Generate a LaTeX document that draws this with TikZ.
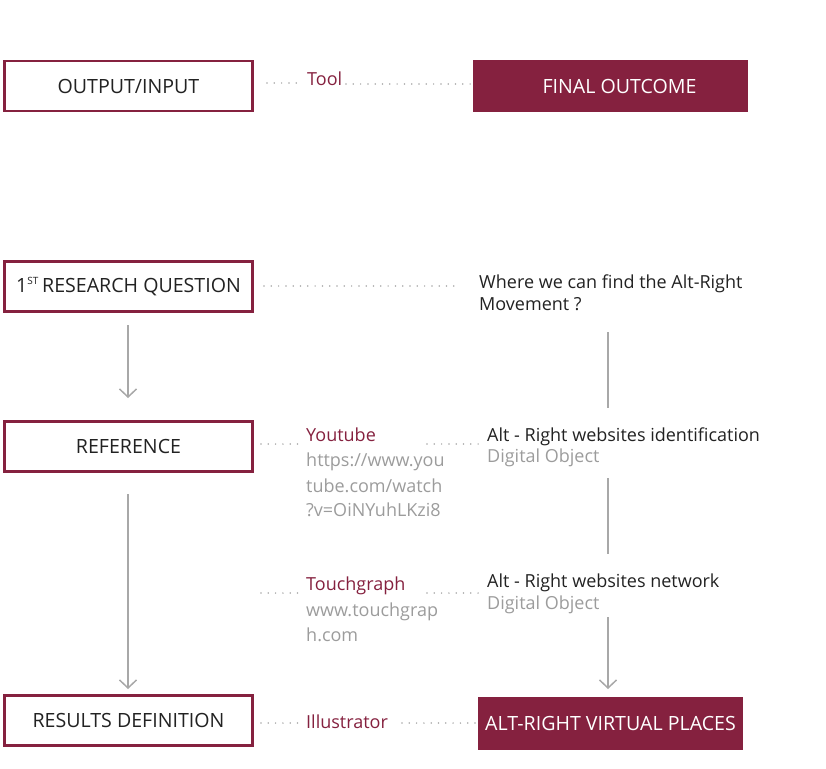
\documentclass[tikz,border=0pt]{standalone}
\usepackage{fontspec}
\setmainfont{Open Sans}
\usetikzlibrary{arrows.meta}
\definecolor{maroon}{HTML}{85213F}
\definecolor{lgray}{HTML}{9C9C9C}
\definecolor{dgray}{HTML}{A8A8A8}
\definecolor{txt}{HTML}{222222}
\begin{document}
\begin{tikzpicture}[x=1pt,y=-1pt,
  obox/.style={draw=maroon,line width=2.5pt,fill=white,minimum width=248pt,minimum height=50pt,inner sep=0pt,font=\fontsize{19.6}{22}\selectfont,text=txt},
  fbox/.style={fill=maroon,draw=none,inner sep=0pt,font=\fontsize{19.6}{22}\selectfont,text=white},
  lbl/.style={anchor=base west,inner sep=0pt,font=\fontsize{18}{20}\selectfont},
  mlbl/.style={lbl,text=maroon},
  glbl/.style={lbl,text=lgray},
  blbl/.style={lbl,text=txt},
  dots/.style={draw=dgray,line width=1.7pt,line cap=round,dash pattern=on 0pt off 7.3pt},
  conn/.style={draw=dgray,line width=1.5pt},
  arr/.style={conn,-{Straight Barb[length=8pt,width=17pt,line width=1.5pt]}}
]
\useasboundingbox (0,0) rectangle (826,768);

% left boxes
\node[obox] (io) at (128.5,86) {OUTPUT/INPUT};
\node[obox] (rq) at (128.5,286.5) {1\textsuperscript{\fontsize{10}{10}\selectfont ST}\,RESEARCH QUESTION};
\node[obox] (ref) at (128.5,446.5) {REFERENCE};
\node[obox] (res) at (128.5,720.5) {RESULTS DEFINITION};

% filled boxes
\node[fbox,minimum width=275pt,minimum height=52pt] (fo) at (610.5,86) {};
\node[fbox] (fot) at (619.5,86.5) {FINAL OUTCOME};
\node[fbox,minimum width=265pt,minimum height=53pt] (vp) at (610.5,723.5) {ALT-RIGHT VIRTUAL PLACES};

% row 1
\node[mlbl] (tool) at (307,85) {Tool};
\coordinate (t1) at (267,83);
\coordinate (t2) at (300,83);
\coordinate (t3) at (346,84);
\coordinate (t4) at (471,84);
\draw[dots] (t1) -- (t2);
\draw[dots] (t3) -- (t4);

% row 2
\node[blbl] (q1) at (479,288) {Where we can find the Alt-Right};
\node[blbl] (q2) at (479,310.5) {Movement ?};
\coordinate (r1) at (264,286);
\coordinate (r2) at (460,286);
\draw[dots] (r1) -- (r2);

% row 3
\node[mlbl] (yt) at (306,441.7) {Youtube};
\node[glbl] (yt1) at (306,466.5) {https://www.you};
\node[glbl] (yt2) at (306,492) {tube.com/watch};
\node[glbl] (yt3) at (306,516.5) {?v=OiNYuhLKzi8};
\node[blbl] (wi) at (487,441.5) {Alt - Right websites identification};
\node[glbl] (wi2) at (487,462) {Digital Object};
\coordinate (a1) at (261,444);
\coordinate (a2) at (298,444);
\coordinate (a3) at (427,444);
\coordinate (a4) at (483,444);
\draw[dots] (a1) -- (a2);
\draw[dots] (a3) -- (a4);

% row 4
\node[mlbl] (tg) at (306,590.5) {Touchgraph};
\node[glbl] (tg1) at (306,616) {www.touchgrap};
\node[glbl] (tg2) at (306,641) {h.com};
\node[blbl] (wn) at (487,587.5) {Alt - Right websites network};
\node[glbl] (wn2) at (487,609) {Digital Object};
\coordinate (b1) at (261,593);
\coordinate (b2) at (298,593);
\coordinate (b3) at (427,593);
\coordinate (b4) at (483,593);
\draw[dots] (b1) -- (b2);
\draw[dots] (b3) -- (b4);

% row 5
\node[mlbl] (il) at (306,728) {Illustrator};
\coordinate (c1) at (261,723);
\coordinate (c2) at (300,723);
\coordinate (c3) at (402,723);
\coordinate (c4) at (475,723);
\draw[dots] (c1) -- (c2);
\draw[dots] (c3) -- (c4);

% vertical connectors
\coordinate (l1a) at (128,325);
\coordinate (l1b) at (128,398);
\coordinate (l2a) at (128,494);
\coordinate (l2b) at (128,689);
\draw[arr] (l1a) -- (l1b);
\draw[arr] (l2a) -- (l2b);
\coordinate (v1a) at (608,332);
\coordinate (v1b) at (608,408);
\coordinate (v2a) at (608,478);
\coordinate (v2b) at (608,554);
\coordinate (v3a) at (608,617);
\coordinate (v3b) at (608,689);
\draw[conn] (v1a) -- (v1b);
\draw[conn] (v2a) -- (v2b);
\draw[arr] (v3a) -- (v3b);
\end{tikzpicture}
\end{document}
